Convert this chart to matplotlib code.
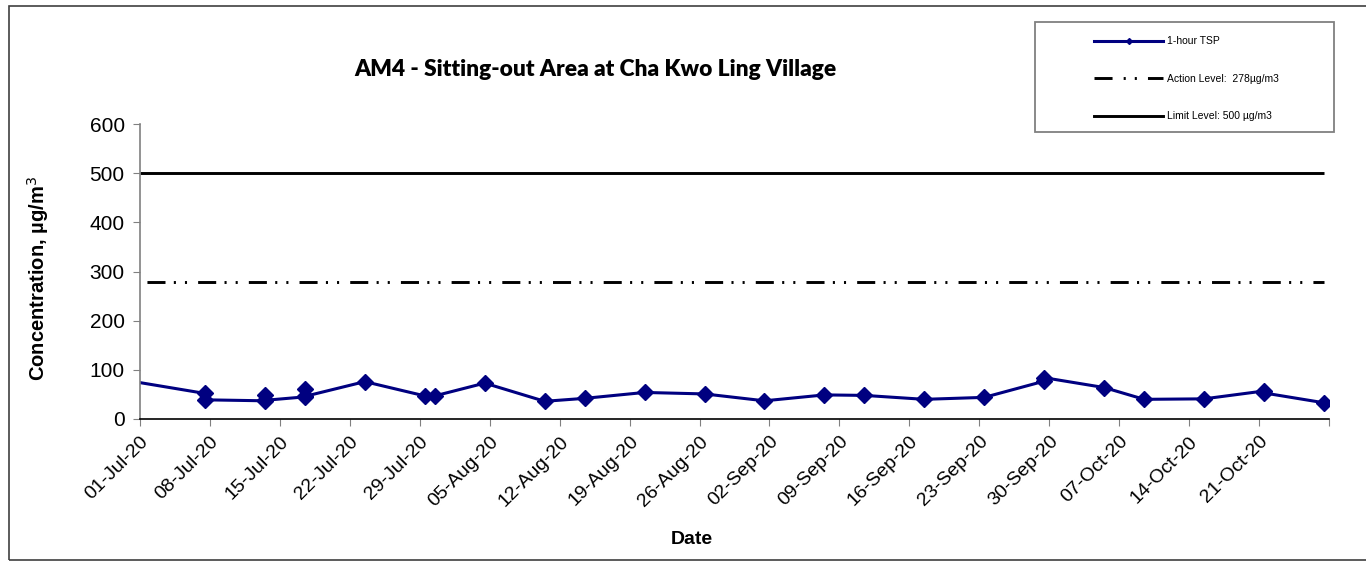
import matplotlib
matplotlib.use("Agg")
import matplotlib.pyplot as plt
from matplotlib.lines import Line2D
from matplotlib.patches import Rectangle
import pandas as pd

# 1-hour TSP readings (several readings on some days)
tsp_dates = [
    "2020-07-01 00:00",
    "2020-07-07 12:00", "2020-07-07 12:00",
    "2020-07-13 12:00", "2020-07-13 12:00", "2020-07-13 12:00",
    "2020-07-17 12:00", "2020-07-17 12:00", "2020-07-17 12:00",
    "2020-07-23 12:00",
    "2020-07-29 12:00", "2020-07-30 12:00",
    "2020-08-04 12:00", "2020-08-10 12:00", "2020-08-14 12:00",
    "2020-08-20 12:00", "2020-08-26 12:00", "2020-09-01 12:00",
    "2020-09-07 12:00", "2020-09-11 12:00", "2020-09-17 12:00",
    "2020-09-23 12:00",
    "2020-09-29 12:00", "2020-09-29 12:00",
    "2020-10-05 12:00", "2020-10-09 12:00", "2020-10-15 12:00",
    "2020-10-21 12:00", "2020-10-21 12:00",
    "2020-10-27 12:00",
]
tsp_values = [
    74,
    52, 39,
    37, 48, 38,
    45, 62, 46,
    76,
    47, 47,
    73, 36, 42,
    54, 51, 37,
    49, 48, 40,
    44,
    77, 84,
    64, 40, 41,
    57, 53,
    33,
]

action_level = 278
limit_level = 500
level_dates = ["2020-07-01 00:00", "2020-10-27 12:00"]

tick_dates = pd.date_range("2020-07-01", "2020-10-28", freq="7D")

plt.rcParams["font.family"] = ["Liberation Sans", "DejaVu Sans"]
plt.rcParams["lines.scale_dashes"] = False

x_tsp = pd.to_datetime(tsp_dates)
x_lvl = pd.to_datetime(level_dates)

fig = plt.figure(figsize=(13.66, 5.63), dpi=100)
ax = fig.add_axes([140 / 1366, 1 - 419 / 563, 1189 / 1366, 295 / 563])

navy = "#000080"
action_style = (31.5, (13, 6, 1.5, 6.5, 1.5, 8))

ax.plot(x_lvl, [limit_level] * 2, color="black", lw=2.1, solid_capstyle="butt")
ax.plot(x_lvl, [action_level] * 2, color="black", lw=2.1, linestyle=action_style,
        dash_capstyle="butt")
ax.plot(x_tsp, tsp_values, color=navy, lw=2.2, marker="D", ms=8.5,
        markevery=list(range(1, len(tsp_values))), mfc=navy, mec=navy)

ax.set_xlim(pd.Timestamp("2020-07-01"), pd.Timestamp("2020-10-28"))
ax.set_ylim(0, 600)
ax.set_yticks(range(0, 601, 100))
ax.set_xticks(tick_dates)
labels = [d.strftime("%d-%b-%y") for d in tick_dates]
labels[-1] = ""
ax.set_xticklabels(labels, rotation=45, ha="right", va="top",
                   rotation_mode="anchor")

for s in ["top", "right"]:
    ax.spines[s].set_visible(False)
ax.spines["left"].set_color("#808080")
ax.spines["left"].set_linewidth(1.2)
ax.spines["bottom"].set_color("black")
ax.spines["bottom"].set_linewidth(1.2)
ax.tick_params(axis="y", direction="out", length=5, color="#808080", labelsize=15, pad=6)
ax.tick_params(axis="x", direction="out", length=5, color="#808080", labelsize=14, pad=5)

fig.text(38 / 1366, 1 - 279 / 563, "Concentration, µg/m$^3$", rotation=90,
         ha="center", va="center", fontsize=14.5, fontweight="bold")
fig.text(692 / 1366, 1 - 540 / 563, "Date", ha="center", va="center",
         fontsize=14, fontweight="bold")
fig.text(595 / 1366, 1 - 70 / 563, "AM4 - Sitting-out Area at Cha Kwo Ling Village",
         ha="center", va="center", fontsize=16.4, fontweight="heavy", family="Lato")

# legend
handles = [
    Line2D([], [], color=navy, lw=2.2, marker="D", ms=3),
    Line2D([], [], color="black", lw=2.1, linestyle=(0, (13, 8, 1.5, 6.5, 1.5, 8))),
    Line2D([], [], color="black", lw=2.1),
]
leg_labels = ["1-hour TSP", "Action Level:  278µg/m3", "Limit Level: 500 µg/m3"]
leg = fig.legend(handles, leg_labels, loc="upper left",
                 bbox_to_anchor=(1089 / 1366, 1 - 31 / 563), frameon=False,
                 fontsize=7.5, handlelength=6.6, handletextpad=0.4,
                 labelspacing=2.65, borderpad=0)
fig.patches.append(Rectangle((1035 / 1366, 1 - 132 / 563), 299 / 1366, 110 / 563,
                             transform=fig.transFigure, fill=False,
                             edgecolor="#808080", lw=1.3))

# outer border
fig.patches.append(Rectangle((9 / 1366, 1 - 560 / 563), 1400 / 1366, 554 / 563,
                             transform=fig.transFigure, fill=False,
                             edgecolor="#404040", lw=1.2))

fig.savefig("out.png", dpi=100)
